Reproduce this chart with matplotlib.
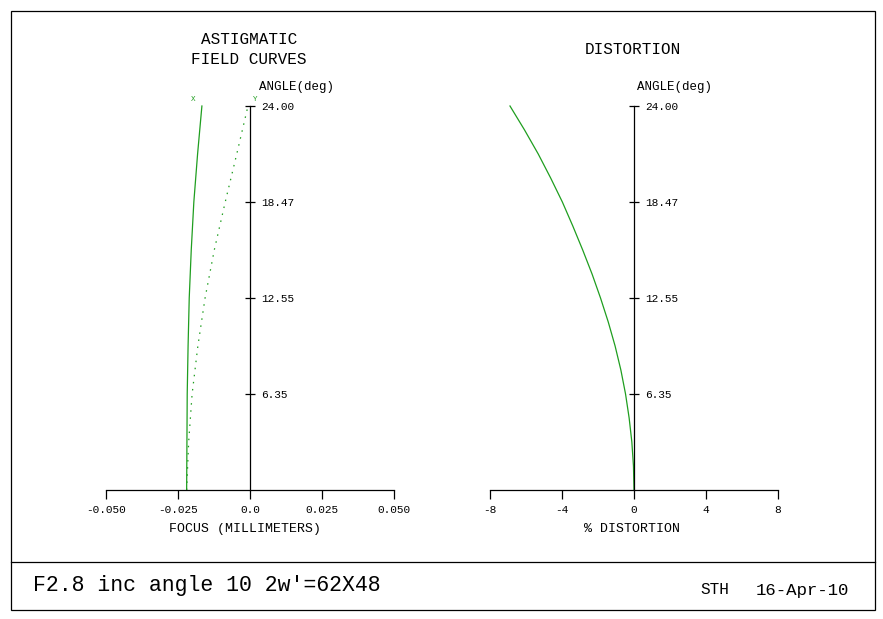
import matplotlib
matplotlib.use("Agg")
import matplotlib.pyplot as plt
from matplotlib.lines import Line2D
from matplotlib.patches import Rectangle

# relative field height (0..1) and the angle labels shown on the field axis
field = [0.0, 0.125, 0.25, 0.375, 0.5, 0.625, 0.75, 0.875, 1.0]
angle_ticks = [0.25, 0.5, 0.75, 1.0]
angle_labels = ["6.35", "12.55", "18.47", "24.00"]

# astigmatic field curves, focus in mm
sagittal = [-0.0220, -0.0219, -0.0218, -0.0215, -0.0211, -0.0204, -0.0195, -0.0182, -0.0167]
tangential = [-0.0220, -0.0213, -0.0201, -0.0181, -0.0156, -0.0124, -0.0086, -0.0046, -0.0007]
focus_ticks = [-0.050, -0.025, 0.0, 0.025, 0.050]
focus_labels = ["-0.050", "-0.025", "0.0", "0.025", "0.050"]

# distortion in percent, read at a finer field step
dist_field = [0.0, 0.0625, 0.125, 0.1875, 0.25, 0.3125, 0.375, 0.4375, 0.5,
              0.5625, 0.625, 0.6875, 0.75, 0.8125, 0.875, 0.9375, 1.0]
distortion = [0.0, -0.03, -0.12, -0.27, -0.47, -0.73, -1.05, -1.43, -1.86,
              -2.33, -2.85, -3.40, -3.98, -4.63, -5.32, -6.08, -6.89]
dist_ticks = [-8, -4, 0, 4, 8]
dist_labels = ["-8", "-4", "0", "4", "8"]

W, H = 883, 619
GREEN = "#1f9e1f"
FONT = "Liberation Mono"
plt.rcParams["font.family"] = FONT


def fx(x):
    return x / W


def fy(y):
    return 1 - y / H


def setup_axes(ax, xlim, xticks, xlabels):
    ax.set_xlim(*xlim)
    ax.set_ylim(0, 1)
    ax.patch.set_visible(False)
    for s in ["top", "left"]:
        ax.spines[s].set_visible(False)
    ax.spines["right"].set_position(("data", 0))
    ax.spines["right"].set_bounds(0, 1)
    ax.spines["bottom"].set_bounds(*xlim)
    for s in ["right", "bottom"]:
        ax.spines[s].set_linewidth(0.9)
    ax.yaxis.set_ticks_position("right")
    ax.set_yticks(angle_ticks)
    ax.set_yticklabels(angle_labels)
    ax.set_xticks(xticks)
    ax.set_xticklabels(xlabels)
    ax.tick_params(axis="y", direction="inout", length=7.5, width=0.9, pad=4, labelsize=8)
    ax.tick_params(axis="x", direction="out", length=6.5, width=0.9, pad=4, labelsize=8)


fig = plt.figure(figsize=(W / 100, H / 100), dpi=100)

ax1 = fig.add_axes([fx(106), fy(490), 288 / W, 384 / H])
setup_axes(ax1, (-0.05, 0.05), focus_ticks, focus_labels)
ax1.plot(sagittal, field, color=GREEN, lw=0.9, clip_on=False)
ax1.plot(tangential, field, color=GREEN, lw=0.9, dashes=(1.2, 4.5), clip_on=False)
ax1.annotate("X", (sagittal[-1], field[-1]), xytext=(-6, 2), textcoords="offset points",
             color=GREEN, fontsize=5.5, ha="center", va="bottom")
ax1.annotate("Y", (tangential[-1], field[-1]), xytext=(5, 2), textcoords="offset points",
             color=GREEN, fontsize=5.5, ha="center", va="bottom")

ax2 = fig.add_axes([fx(490), fy(490), 288 / W, 384 / H])
setup_axes(ax2, (-8, 8), dist_ticks, dist_labels)
ax2.plot(distortion, dist_field, color=GREEN, lw=0.9, clip_on=False)

# texts
fig.text(fx(249), fy(40), "ASTIGMATIC", ha="center", va="center", fontsize=11.5)
fig.text(fx(249), fy(59), "FIELD CURVES", ha="center", va="center", fontsize=11.5)
fig.text(fx(633), fy(49), "DISTORTION", ha="center", va="center", fontsize=11.5)
fig.text(fx(259), fy(87), "ANGLE(deg)", ha="left", va="center", fontsize=9)
fig.text(fx(637), fy(87), "ANGLE(deg)", ha="left", va="center", fontsize=9)
fig.text(fx(245), fy(529), "FOCUS (MILLIMETERS)", ha="center", va="center", fontsize=9.5)
fig.text(fx(632), fy(529), "% DISTORTION", ha="center", va="center", fontsize=9.5)
fig.text(fx(33), fy(586), "F2.8 inc angle 10 2w'=62X48", ha="left", va="center", fontsize=15.5)
fig.text(fx(700), fy(590), "STH", ha="left", va="center", fontsize=11.5)
fig.text(fx(849), fy(590), "16-Apr-10", ha="right", va="center", fontsize=12.5)

# frame and separator
fig.add_artist(Rectangle((fx(11), fy(610)), (875 - 11) / W, (610 - 11) / H,
                         transform=fig.transFigure, fill=False, lw=0.9, ec="black"))
fig.add_artist(Line2D([fx(11), fx(875)], [fy(562), fy(562)],
                      transform=fig.transFigure, lw=0.9, color="black"))

fig.savefig("out.png", dpi=100)
